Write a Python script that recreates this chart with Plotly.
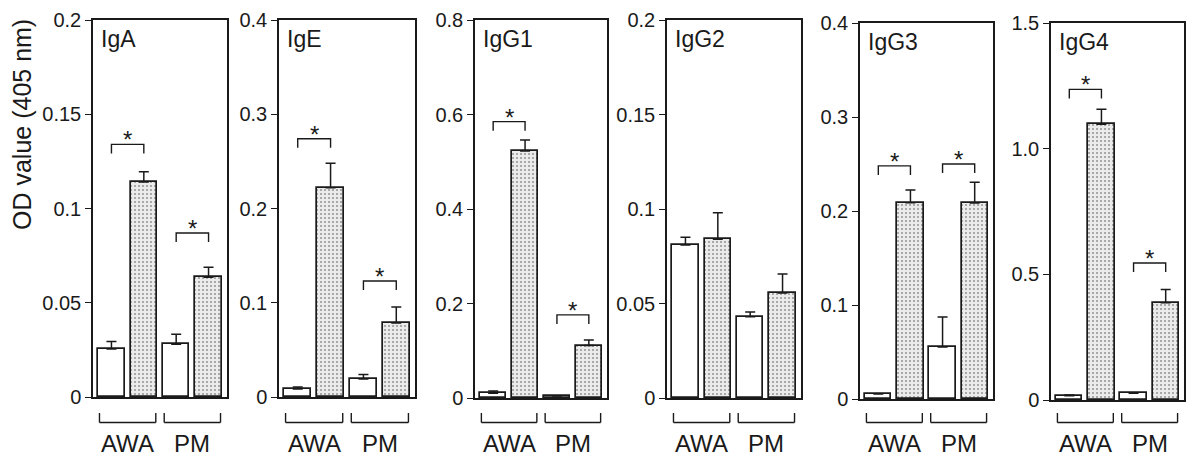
import plotly.graph_objects as go

# ---------------- data ----------------
panel_names = ["IgA", "IgE", "IgG1", "IgG2", "IgG3", "IgG4"]
group_labels = ["AWA", "PM"]
# bar order in every panel: AWA control, AWA patients, PM control, PM patients

iga_values = [0.0255, 0.114, 0.028, 0.0635]
iga_errors = [0.004, 0.0055, 0.0053, 0.0053]
ige_values = [0.0085, 0.222, 0.019, 0.0785]
ige_errors = [0.002, 0.026, 0.005, 0.017]
igg1_values = [0.010, 0.523, 0.004, 0.111]
igg1_errors = [0.005, 0.023, 0.001, 0.012]
igg2_values = [0.081, 0.084, 0.043, 0.0556]
igg2_errors = [0.004, 0.014, 0.0025, 0.010]
igg3_values = [0.0053, 0.2088, 0.0553, 0.2085]
igg3_errors = [0.0, 0.0135, 0.032, 0.022]
igg4_values = [0.017, 1.097, 0.027, 0.387]
igg4_errors = [0.003, 0.060, 0.0, 0.053]

# significance bracket heights (AWA, PM); None = no bracket
iga_sig = [0.134, 0.087]
ige_sig = [0.274, 0.123]
igg1_sig = [0.585, 0.176]
igg2_sig = [None, None]
igg3_sig = [0.248, 0.250]
igg4_sig = [1.236, 0.545]

y_max = [0.2, 0.4, 0.8, 0.2, 0.4, 1.5]
iga_ticks = [0, 0.05, 0.1, 0.15, 0.2]
iga_ticktext = ["0", "0.05", "0.1", "0.15", "0.2"]
ige_ticks = [0, 0.1, 0.2, 0.3, 0.4]
ige_ticktext = ["0", "0.1", "0.2", "0.3", "0.4"]
igg1_ticks = [0, 0.2, 0.4, 0.6, 0.8]
igg1_ticktext = ["0", "0.2", "0.4", "0.6", "0.8"]
igg2_ticks = [0, 0.05, 0.1, 0.15, 0.2]
igg2_ticktext = ["0", "0.05", "0.1", "0.15", "0.2"]
igg3_ticks = [0, 0.1, 0.2, 0.3, 0.4]
igg3_ticktext = ["0", "0.1", "0.2", "0.3", "0.4"]
igg4_ticks = [0, 0.5, 1.0, 1.5]
igg4_ticktext = ["0", "0.5", "1.0", "1.5"]

y_title = "OD value (405 nm)"

values = [iga_values, ige_values, igg1_values, igg2_values, igg3_values, igg4_values]
errors = [iga_errors, ige_errors, igg1_errors, igg2_errors, igg3_errors, igg4_errors]
sigs = [iga_sig, ige_sig, igg1_sig, igg2_sig, igg3_sig, igg4_sig]
ticks = [iga_ticks, ige_ticks, igg1_ticks, igg2_ticks, igg3_ticks, igg4_ticks]
ticktexts = [iga_ticktext, ige_ticktext, igg1_ticktext, igg2_ticktext, igg3_ticktext, igg4_ticktext]

# ---------------- layout geometry (pixels) ----------------
W, H = 1188, 463
panel_px = [(93, 227, 20, 397), (279, 415, 20, 397), (475, 607, 20, 398),
            (667, 801, 20, 398), (860, 993, 23, 399), (1051, 1184, 23, 400)]
XR = [-0.57, 3.57]
BAR_W = 0.82
FONT = "Arial, Liberation Sans, Helvetica, sans-serif"
INK = "#1a1a1a"

fig = go.Figure()
shapes = []
annotations = []
xpos = [0, 1, 2, 3]

for i, name in enumerate(panel_names):
    k = "" if i == 0 else str(i + 1)
    xa, ya = "x" + k, "y" + k
    x0p, x1p, t, b = panel_px[i]
    fig.add_trace(go.Bar(
        x=xpos, y=values[i], width=BAR_W, xaxis=xa, yaxis=ya,
        marker=dict(
            color=["white", "#ebebeb", "white", "#ebebeb"],
            line=dict(color=INK, width=1.7),
            pattern=dict(shape=["", ".", "", "."], fgcolor="#8c8c8c",
                         size=4, solidity=0.22, fillmode="overlay"),
        ),
        error_y=dict(type="data", symmetric=False, array=errors[i],
                     arrayminus=[0] * 4, width=5, thickness=1.5, color=INK),
        showlegend=False, hoverinfo="skip",
    ))
    fig.update_layout(**{
        ("xaxis" + k): dict(domain=[x0p / W, x1p / W], range=XR, anchor=ya,
                            showline=True, mirror=True, linecolor=INK, linewidth=1.5,
                            showticklabels=False, ticks="", showgrid=False, zeroline=False,
                            fixedrange=True),
        ("yaxis" + k): dict(domain=[1 - b / H, 1 - t / H], range=[0, y_max[i]], anchor=xa,
                            showline=True, mirror=True, linecolor=INK, linewidth=1.5,
                            tickvals=ticks[i], ticktext=ticktexts[i], ticks="outside",
                            ticklen=6, tickwidth=1.2, tickcolor=INK,
                            tickfont=dict(family=FONT, size=20, color=INK),
                            showgrid=False, zeroline=False, fixedrange=True),
    })
    # panel label
    annotations.append(dict(text=name, xref=xa + " domain", yref=ya + " domain",
                            x=0, y=1, xanchor="left", yanchor="top", xshift=6, yshift=-4,
                            showarrow=False, font=dict(family=FONT, size=23, color=INK)))
    # significance brackets
    drop = 0.024 * y_max[i]
    for g, sy in enumerate(sigs[i]):
        if sy is None:
            continue
        xa0, xa1 = xpos[2 * g], xpos[2 * g + 1]
        shapes.append(dict(type="path", xref=xa, yref=ya,
                           path=f"M {xa0},{sy - drop} L {xa0},{sy} L {xa1},{sy} L {xa1},{sy - drop}",
                           line=dict(color=INK, width=1.4)))
        annotations.append(dict(text="*", xref=xa, yref=ya, x=(xa0 + xa1) / 2, y=sy,
                                xanchor="center", yanchor="bottom", yshift=-11,
                                showarrow=False, font=dict(family=FONT, size=24, color=INK)))
    # group brackets below axis
    yb = 1 - 422.5 / H
    yt = 1 - 413 / H
    for g, lab in enumerate(group_labels):
        gx0 = (xpos[2 * g] - 0.37 - XR[0]) / (XR[1] - XR[0])
        gx1 = (xpos[2 * g + 1] + 0.37 - XR[0]) / (XR[1] - XR[0])
        for seg in [(gx0, yt, gx0, yb), (gx0, yb, gx1, yb), (gx1, yb, gx1, yt)]:
            shapes.append(dict(type="line", xref=xa + " domain", yref="paper",
                               x0=seg[0], y0=seg[1], x1=seg[2], y1=seg[3],
                               line=dict(color=INK, width=1.4)))
        annotations.append(dict(text=lab, xref=xa, yref="paper",
                                x=(xpos[2 * g] + xpos[2 * g + 1]) / 2, y=1 - 443 / H,
                                xanchor="center", yanchor="middle", showarrow=False,
                                font=dict(family=FONT, size=24, color=INK)))

annotations.append(dict(text=y_title, xref="paper", yref="paper", x=22 / W, y=1 - 125 / H,
                        xanchor="center", yanchor="middle", textangle=-90, showarrow=False,
                        font=dict(family=FONT, size=25, color=INK)))

fig.update_layout(width=W, height=H, margin=dict(l=0, r=0, t=0, b=0, autoexpand=False),
                  paper_bgcolor="white", plot_bgcolor="white",
                  shapes=shapes, annotations=annotations, bargap=0)
fig.write_html("out.html", config={"displayModeBar": False},
               post_script="document.body.style.margin='0';document.body.style.overflow='hidden';")
